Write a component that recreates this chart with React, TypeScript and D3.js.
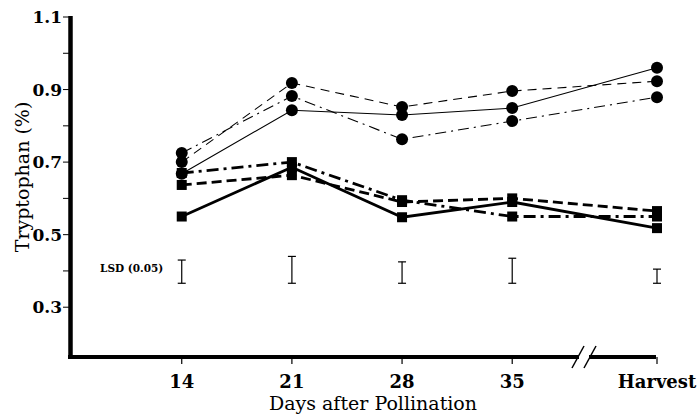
import React, { useEffect, useRef } from "react";
import * as d3 from "d3";

// sampling days (last one is harvest, drawn after an axis break)
const days = ["14", "21", "28", "35", "Harvest"];
const dayNum = [14, 21, 28, 35, 44.2];

// thin lines, round markers
const circleDashed = [0.7, 0.918, 0.852, 0.896, 0.923];
const circleDashDot = [0.725, 0.882, 0.763, 0.813, 0.879];
const circleSolid = [0.668, 0.843, 0.83, 0.849, 0.96];

// thick lines, square markers
const squareSolid = [0.55, 0.686, 0.548, 0.59, 0.518];
const squareDashed = [0.637, 0.664, 0.59, 0.6, 0.565];
const squareDashDot = [0.67, 0.7, 0.595, 0.55, 0.55];

// LSD (0.05) bars
const lsdLow = [0.366, 0.366, 0.366, 0.366, 0.366];
const lsdHigh = [0.43, 0.44, 0.425, 0.435, 0.405];

const yMajor = [0.3, 0.5, 0.7, 0.9, 1.1];
const yMinor = [0.4, 0.6, 0.8, 1.0];

const FONT = "'DejaVu Serif', serif";

export default function App() {
  const ref = useRef<SVGSVGElement>(null);

  useEffect(() => {
    document.body.style.margin = "0";
    const svg = d3.select(ref.current);
    svg.selectAll("*").remove();

    const x = d3.scaleLinear().domain([6.9, 44.2]).range([70, 657]);
    const y = d3.scaleLinear().domain([0.16, 1.1]).range([358, 17]);

    const series = [
      { v: circleDashed, shape: "circle", w: 1.1, dash: "9,6" },
      { v: circleDashDot, shape: "circle", w: 1.1, dash: "11,5,2,5" },
      { v: circleSolid, shape: "circle", w: 1.1, dash: null },
      { v: squareSolid, shape: "square", w: 2.8, dash: null },
      { v: squareDashed, shape: "square", w: 2.8, dash: "10,5" },
      { v: squareDashDot, shape: "square", w: 2.8, dash: "12,5,3,5" },
    ];

    const line = d3
      .line<number>()
      .x((_, i) => x(dayNum[i]))
      .y((d) => y(d));

    series.forEach((s) => {
      svg
        .append("path")
        .attr("d", line(s.v))
        .attr("fill", "none")
        .attr("stroke", "#000")
        .attr("stroke-width", s.w)
        .attr("stroke-dasharray", s.dash);
    });

    series.forEach((s) => {
      if (s.shape === "circle") {
        svg
          .selectAll(null)
          .data(s.v)
          .enter()
          .append("circle")
          .attr("cx", (_, i) => x(dayNum[i]))
          .attr("cy", (d) => y(d))
          .attr("r", 6)
          .attr("fill", "#000");
      } else {
        svg
          .selectAll(null)
          .data(s.v)
          .enter()
          .append("rect")
          .attr("x", (_, i) => x(dayNum[i]) - 5)
          .attr("y", (d) => y(d) - 5)
          .attr("width", 10)
          .attr("height", 10)
          .attr("fill", "#000");
      }
    });

    // LSD bars
    const lsd = svg.append("g").attr("stroke", "#000").attr("stroke-width", 1.2);
    days.forEach((_, i) => {
      const cx = x(dayNum[i]);
      lsd.append("line").attr("x1", cx).attr("x2", cx).attr("y1", y(lsdLow[i])).attr("y2", y(lsdHigh[i]));
      lsd.append("line").attr("x1", cx - 4).attr("x2", cx + 4).attr("y1", y(lsdLow[i])).attr("y2", y(lsdLow[i]));
      lsd.append("line").attr("x1", cx - 4).attr("x2", cx + 4).attr("y1", y(lsdHigh[i])).attr("y2", y(lsdHigh[i]));
    });
    svg
      .append("text")
      .attr("x", 100)
      .attr("y", 272)
      .attr("font-family", FONT)
      .attr("font-weight", "bold")
      .attr("font-size", 10.5)
      .text("LSD (0.05)");

    // y axis
    svg.append("line").attr("x1", 70.5).attr("x2", 70.5).attr("y1", 16).attr("y2", 359)
      .attr("stroke", "#000").attr("stroke-width", 4.5);
    [...yMajor, ...yMinor].forEach((t) => {
      svg.append("line").attr("x1", 63).attr("x2", 70).attr("y1", y(t)).attr("y2", y(t))
        .attr("stroke", "#000").attr("stroke-width", 1);
    });
    svg
      .selectAll(null)
      .data(yMajor)
      .enter()
      .append("text")
      .attr("x", 62)
      .attr("y", (d) => y(d))
      .attr("dy", "0.36em")
      .attr("text-anchor", "end")
      .attr("font-family", FONT)
      .attr("font-weight", "bold")
      .attr("font-size", 17)
      .text((d) => d3.format(".1f")(d));

    // x axis with break before harvest
    const xAxisY = 357;
    const breakX = 584;
    svg.append("line").attr("x1", 68).attr("x2", breakX - 5).attr("y1", xAxisY).attr("y2", xAxisY)
      .attr("stroke", "#000").attr("stroke-width", 4);
    svg.append("line").attr("x1", breakX + 5).attr("x2", 656).attr("y1", xAxisY).attr("y2", xAxisY)
      .attr("stroke", "#000").attr("stroke-width", 4);
    [-6, 6].forEach((o) => {
      svg.append("line")
        .attr("x1", breakX + o - 6).attr("x2", breakX + o + 6)
        .attr("y1", xAxisY + 11).attr("y2", xAxisY - 11)
        .attr("stroke", "#000").attr("stroke-width", 1.5);
    });
    days.forEach((d, i) => {
      const cx = x(dayNum[i]);
      svg.append("line").attr("x1", cx).attr("x2", cx).attr("y1", xAxisY).attr("y2", xAxisY + 7)
        .attr("stroke", "#000").attr("stroke-width", 1.2);
      svg.append("text")
        .attr("x", cx)
        .attr("y", 388)
        .attr("text-anchor", "middle")
        .attr("font-family", FONT)
        .attr("font-weight", "bold")
        .attr("font-size", 18)
        .text(d);
    });

    svg.append("text")
      .attr("x", 373)
      .attr("y", 410)
      .attr("text-anchor", "middle")
      .attr("font-family", FONT)
      .attr("font-size", 19)
      .text("Days after Pollination");

    svg.append("text")
      .attr("transform", "translate(29,177) rotate(-90)")
      .attr("text-anchor", "middle")
      .attr("font-family", FONT)
      .attr("font-size", 19)
      .text("Tryptophan (%)");
  }, []);

  return <svg ref={ref} width={700} height={415} style={{ display: "block", background: "#fff" }} />;
}
